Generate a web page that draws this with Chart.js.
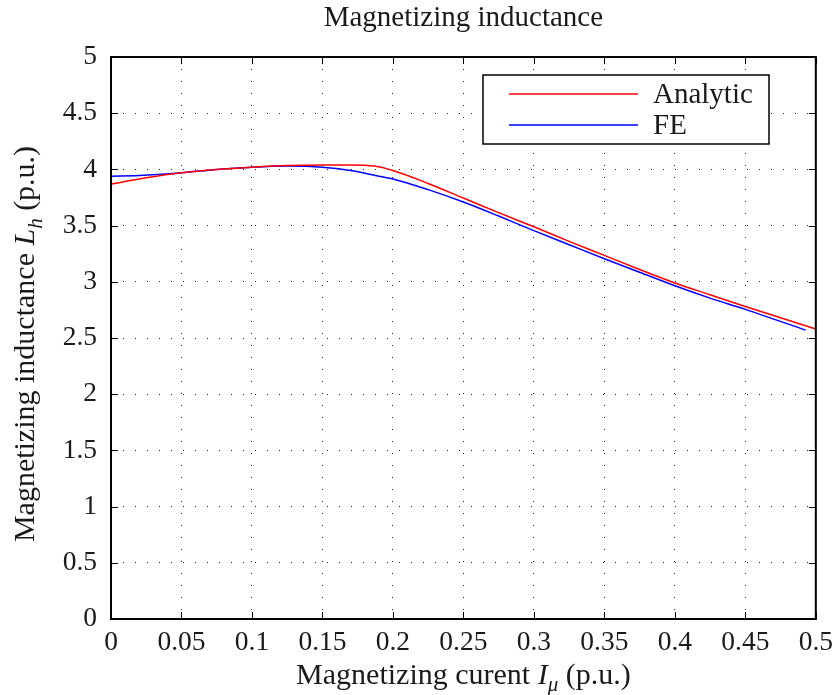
<!DOCTYPE html>
<html>
<head>
<meta charset="utf-8">
<script src="https://cdn.jsdelivr.net/npm/chart.js@4.4.0/dist/chart.umd.min.js"></script>
<style>
  body { margin: 0; background: #fff; }
  #wrap { width: 840px; height: 695px; }
</style>
</head>
<body>
<div id="wrap"><canvas id="inductanceChart" width="840" height="695"></canvas></div>
<script>
// values
const analyticI = [0, 0.025, 0.05, 0.075, 0.1, 0.125, 0.15, 0.17, 0.187, 0.2, 0.225, 0.25, 0.275, 0.3, 0.325, 0.35, 0.375, 0.4, 0.425, 0.45, 0.475, 0.5];
const analyticL = [3.87, 3.925, 3.97, 4.0, 4.02, 4.035, 4.04, 4.04, 4.03, 3.99, 3.875, 3.745, 3.615, 3.49, 3.36, 3.235, 3.11, 2.99, 2.885, 2.78, 2.68, 2.58];
const feI = [0, 0.02, 0.05, 0.075, 0.1, 0.125, 0.15, 0.17, 0.1885, 0.2, 0.225, 0.25, 0.275, 0.3, 0.325, 0.35, 0.375, 0.4, 0.425, 0.45, 0.4928];
const feL = [3.94, 3.945, 3.97, 4.0, 4.02, 4.03, 4.02, 3.99, 3.944, 3.915, 3.82, 3.71, 3.585, 3.455, 3.33, 3.205, 3.085, 2.965, 2.855, 2.755, 2.57];
const seriesNames = ['Analytic', 'FE'];
const xTicks = [0, 0.05, 0.1, 0.15, 0.2, 0.25, 0.3, 0.35, 0.4, 0.45, 0.5];
const yTicks = [0, 0.5, 1, 1.5, 2, 2.5, 3, 3.5, 4, 4.5, 5];

const FONT = "'Liberation Serif', 'Times New Roman', serif";
Chart.defaults.font.family = FONT;
Chart.defaults.color = '#1a1a1a';

const toPoints = (xs, ys) => xs.map((x, i) => ({ x: x, y: ys[i] }));

// draws text pieces one after another: [text, italic, subscript]
function drawParts(ctx, parts, x, y, align, size) {
    const fontOf = p => (p[1] ? 'italic ' : '') + Math.round(p[2] ? size * 0.7 : size) + 'px ' + FONT;
    const widths = parts.map(p => { ctx.font = fontOf(p); return ctx.measureText(p[0]).width; });
    const total = widths.reduce((a, b) => a + b, 0);
    let cx = align === 'center' ? x - total / 2 : x;
    parts.forEach((p, i) => {
        ctx.font = fontOf(p);
        ctx.fillText(p[0], cx, y + (p[2] ? size * 0.25 : 0));
        cx += widths[i];
    });
}

const frame = {
    id: 'frame',
    afterDraw(chart) {
        const { ctx, chartArea: a, scales } = chart;
        const cx = (a.left + a.right) / 2;
        ctx.save();
        ctx.fillStyle = '#1a1a1a';
        ctx.textBaseline = 'alphabetic';
        ctx.textAlign = 'left';

        // inward tick marks on all four sides
        ctx.strokeStyle = '#000';
        ctx.lineWidth = 1;
        ctx.beginPath();
        xTicks.forEach(v => {
            const px = Math.round(scales.x.getPixelForValue(v)) + 0.5;
            ctx.moveTo(px, a.bottom); ctx.lineTo(px, a.bottom - 7);
            ctx.moveTo(px, a.top); ctx.lineTo(px, a.top + 7);
        });
        yTicks.forEach(v => {
            const py = Math.round(scales.y.getPixelForValue(v)) + 0.5;
            ctx.moveTo(a.left, py); ctx.lineTo(a.left + 7, py);
            ctx.moveTo(a.right, py); ctx.lineTo(a.right - 7, py);
        });
        ctx.stroke();

        // axes box
        ctx.lineWidth = 2;
        ctx.strokeRect(a.left, a.top, a.right - a.left, a.bottom - a.top);

        // title
        drawParts(ctx, [['Magnetizing inductance', false, false]], cx, 26, 'center', 28.5);

        // x axis title
        drawParts(ctx, [['Magnetizing curent ', false, false], ['I', true, false], ['\u03bc', true, true], [' (p.u.)', false, false]], cx, 684, 'center', 29.5);

        // y axis title, rotated
        ctx.save();
        ctx.translate(34, (a.top + a.bottom) / 2 + 6);
        ctx.rotate(-Math.PI / 2);
        drawParts(ctx, [['Magnetizing inductance ', false, false], ['L', true, false], ['h', true, true], [' (p.u.)', false, false]], 0, 0, 'center', 30);
        ctx.restore();

        // legend
        const lx = 483, ly = 75, lw = 286, lh = 69;
        ctx.fillStyle = '#fff';
        ctx.fillRect(lx, ly, lw, lh);
        ctx.lineWidth = 1.5;
        ctx.strokeStyle = '#000';
        ctx.strokeRect(lx, ly, lw, lh);
        chart.data.datasets.forEach((ds, i) => {
            const y = ly + 19 + i * 31;
            ctx.strokeStyle = ds.borderColor;
            ctx.lineWidth = 1.5;
            ctx.beginPath();
            ctx.moveTo(lx + 26, y); ctx.lineTo(lx + 155, y);
            ctx.stroke();
            ctx.fillStyle = '#1a1a1a';
            drawParts(ctx, [[ds.label, false, false]], lx + 170, y + 9, 'left', 29);
        });
        ctx.restore();
    }
};

const fmt = v => String(parseFloat(Number(v).toFixed(2)));

new Chart(document.getElementById('inductanceChart').getContext('2d'), {
    type: 'line',
    data: {
        datasets: [{
            label: seriesNames[0],
            data: toPoints(analyticI, analyticL),
            borderColor: '#ff0000',
            borderWidth: 1.5,
            pointRadius: 0,
            fill: false,
            cubicInterpolationMode: 'monotone'
        }, {
            label: seriesNames[1],
            data: toPoints(feI, feL),
            borderColor: '#0000ff',
            borderWidth: 1.5,
            pointRadius: 0,
            fill: false,
            cubicInterpolationMode: 'monotone'
        }]
    },
    options: {
        responsive: false,
        animation: false,
        events: [],
        layout: { padding: { top: 57, right: 18, left: 0, bottom: 0 } },
        scales: {
            x: {
                type: 'linear',
                min: 0,
                max: 0.5,
                afterFit: s => { s.height = 76; },
                afterBuildTicks: s => { s.ticks = xTicks.map(v => ({ value: v })); },
                ticks: {
                    autoSkip: false,
                    maxRotation: 0,
                    padding: 7,
                    font: { size: 27.5 },
                    callback: fmt
                },
                grid: { color: 'rgba(0,0,0,0.85)', lineWidth: 1, drawTicks: false },
                border: { display: false, dash: [1, 11] }
            },
            y: {
                min: 0,
                max: 5,
                afterFit: s => { s.width = 111; },
                afterBuildTicks: s => { s.ticks = yTicks.map(v => ({ value: v })); },
                ticks: {
                    autoSkip: false,
                    padding: 14,
                    font: { size: 27.5 },
                    callback: fmt
                },
                grid: { color: 'rgba(0,0,0,0.85)', lineWidth: 1, drawTicks: false },
                border: { display: false, dash: [1, 11] }
            }
        },
        plugins: {
            legend: { display: false },
            title: { display: false },
            tooltip: { enabled: false }
        }
    },
    plugins: [frame]
});
</script>
</body>
</html>
